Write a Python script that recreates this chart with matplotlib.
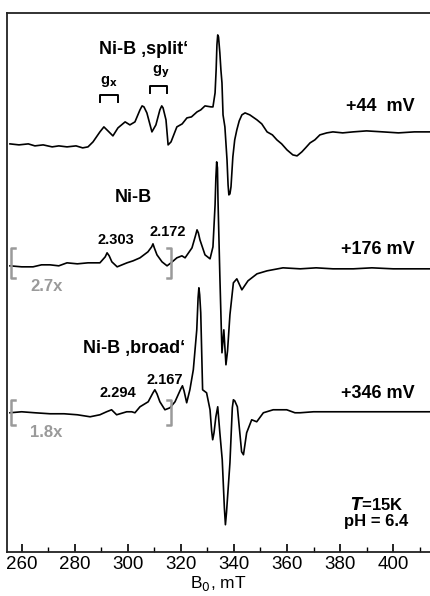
import matplotlib
matplotlib.use("Agg")
import matplotlib.pyplot as plt

plt.rcParams['font.family'] = ['Liberation Sans', 'DejaVu Sans']

# field axis, mT
xmin, xmax = 254.6, 413.9
tick_vals = [260, 280, 300, 320, 340, 360, 380, 400]

# spectrum at +44 mV (Ni-B 'split')
b_44 = [255.6, 259.0, 262.5, 265.0, 268.1, 271.5, 274.0, 277.1, 280.5, 283.0, 285.0,
        286.9, 289.5, 291.0, 292.9, 294.4, 296.3, 299.0, 300.8, 302.7, 304.6, 305.4, 306.1,
        307.2, 308.2, 309.1, 310.6, 312.1, 312.8, 313.3, 314.4, 315.2, 316.3, 318.5, 320.5, 322.3,
        324.0, 326.1, 327.5, 329.1, 331.4, 332.1, 332.9, 333.3, 333.6, 333.9, 334.2, 334.7, 335.1, 335.5,
        335.9, 336.6, 337.4, 337.8, 338.1, 338.5, 338.9, 339.6, 340.3, 341.1, 342.0, 343.0, 344.2, 346.0, 348.7,
        350.5, 352.5, 354.5, 356.2, 358.0, 360.0, 362.2, 363.8, 365.6, 367.0, 368.7,
        370.5, 372.4, 375.0, 377.3, 381.0, 384.9, 390.0, 396.2, 402.0, 408.0, 413.9]
i_44 = [1, 0, 1, -1, 0, -2, -1, -2, -1, -3, -2,
        3, 13, 18, 13, 9, 17, 23, 20, 23, 35, 39, 38,
        32, 22, 13, 20, 35, 39, 37, 25, 0, 3, 18, 21, 27,
        28, 33, 35, 39, 38, 38, 52, 75, 100, 110, 108, 92, 75, 62,
        30, 18, -15, -40, -50, -49, -42, -12, 5, 15, 24, 30, 32, 30, 25,
        21, 13, 10, 5, 1, -5, -10, -11, -7, -3, 2,
        5, 10, 12, 13, 12, 13, 14, 13, 12, 13, 13]

# spectrum at +176 mV (Ni-B)
b_176 = [255.6, 260.0, 264.3, 267.5, 270.7, 274.0, 277.1, 281.0, 285.0, 289.5, 291.5, 292.2,
         293.0, 294.0, 296.0, 299.7, 302.0, 304.6, 307.6, 309.0, 309.5, 310.0, 311.0, 312.9, 314.8, 316.3,
         318.5, 320.4, 321.6, 324.2, 325.5, 326.1, 326.6, 327.2, 329.1, 331.0, 332.1, 332.9, 333.2, 333.5,
         333.8, 334.0, 334.7, 335.5, 336.2, 337.0, 337.6, 338.5, 339.8, 341.1, 343.0, 345.3, 348.7,
         352.5, 358.5, 365.0, 371.0, 377.3, 385.0, 392.0, 400.0, 407.0, 413.9]
i_176 = [0, -1, -1, 1, 1, 0, 3, 2, 3, 3, 9, 13,
         10, 4, -1, 3, 5, 8, 14, 19, 22, 18, 11, 4, 0, 3,
         8, 10, 8, 18, 30, 36, 33, 26, 11, 7, 19, 61, 88, 104,
         98, 66, -10, -87, -64, -99, -85, -49, -17, -13, -24, -15, -8,
         -5, -2, -3, -2, -3, -3, -2, -3, -3, -3]

# spectrum at +346 mV (Ni-B 'broad')
b_346 = [255.6, 260.0, 265.0, 270.7, 276.0, 281.0, 285.8, 289.5, 292.0, 293.9, 295.8,
         299.6, 301.5, 302.7, 304.6, 307.7, 309.5, 310.2, 311.0, 312.1, 314.0, 315.9, 317.8, 320.0, 320.6, 321.2,
         322.2, 323.4, 324.7, 326.0, 326.5, 326.8, 327.1, 327.5, 328.2, 329.7, 331.0, 331.6, 332.0, 332.5, 333.2,
         333.9, 334.7, 335.6, 336.4, 336.8, 337.2, 338.5, 339.4, 339.8, 340.3, 341.3, 342.9, 343.6, 344.8, 346.7, 348.6,
         351.1, 354.8, 359.9, 363.0, 364.9, 370.0, 377.3, 390.0, 400.0, 413.9]
i_346 = [0, 1, 0, -1, -1, -2, -4, -2, 1, 3, -2,
         1, 1, 0, 6, 11, 20, 23, 19, 11, 3, 5, 11, 24, 27, 22,
         10, 23, 43, 83, 115, 125, 118, 100, 23, 20, 3, -18, -27, -20, -4,
         6, -20, -47, -95, -112, -100, -50, 5, 13, 12, 6, -39, -42, -20, -7, -9,
         0, 3, 3, 0, 0, 1, 1, 1, 1, 1]

offsets = [407, 286, 139]
potentials = ['+44  mV', '+176 mV', '+346 mV']

fig = plt.figure(figsize=(4.3, 5.96), dpi=100)
ax = fig.add_axes([0.017, 0.0743, 0.983, 0.904])

for b, i, off in zip([b_44, b_176, b_346], [i_44, i_176, i_346], offsets):
    ax.plot(b, [v + off for v in i], color='black', lw=1.2)

ax.set_xlim(xmin, xmax)
ax.set_ylim(0, 539)
ax.set_xticks(tick_vals)
ax.set_xticks(range(270, 411, 20), minor=True)
ax.tick_params(axis='x', which='major', direction='in', length=6, width=1.2,
               labelsize=13.5, pad=3, top=False)
ax.tick_params(axis='x', which='minor', direction='in', length=3.5, width=1.0, top=False)
ax.set_yticks([])
ax.spines['right'].set_visible(False)
for s in ['left', 'top', 'bottom']:
    ax.spines[s].set_linewidth(1.3)
    ax.spines[s].set_color('#222222')
ax.set_xlabel('B$_0$, mT', fontsize=12.5, labelpad=1)

bold = dict(fontweight='bold', ha='center', va='center')
ax.text(306.1, 502, 'Ni-B \u201asplit\u2018', fontsize=13, **bold)
ax.text(292.9, 470, 'g$_\\mathbf{x}$', fontsize=10.5, **bold)
ax.text(312.5, 480, 'g$_\\mathbf{y}$', fontsize=10.5, **bold)
ax.plot([289.5, 289.5, 296.3, 296.3], [450, 457, 457, 450], color='black', lw=1.4)
ax.plot([308.4, 308.4, 314.8, 314.8], [459, 466, 466, 459], color='black', lw=1.4)

ax.text(302.0, 354, 'Ni-B', fontsize=13, **bold)
ax.text(295.6, 312, '2.303', fontsize=10.5, **bold)
ax.text(315.1, 320, '2.172', fontsize=10.5, **bold)
ax.text(302.4, 203, 'Ni-B \u201abroad\u2018', fontsize=13, **bold)
ax.text(296.3, 159, '2.294', fontsize=10.5, **bold)
ax.text(314.0, 172, '2.167', fontsize=10.5, **bold)

for lab, y in zip(potentials, [445, 302, 158]):
    ax.text(408.2, y, lab, fontsize=13, fontweight='bold', ha='right', va='center')

gray = '#9a9a9a'
for lo, hi, lab, ly in [(274, 304, '2.7x', 265), (127, 152, '1.8x', 119)]:
    ax.plot([257.5, 256.0, 256.0, 257.5], [lo, lo, hi, hi], color=gray, lw=1.8)
    ax.plot([314.8, 316.3, 316.3, 314.8], [lo, lo, hi, hi], color=gray, lw=1.8)
    ax.text(269.4, ly, lab, fontsize=12, color=gray, **bold)

ax.text(393.9, 47, '$\\mathbfit{T}$=15K', fontsize=12, **bold)
ax.text(393.5, 30, 'pH = 6.4', fontsize=12, **bold)

fig.savefig('out.png', dpi=100)
